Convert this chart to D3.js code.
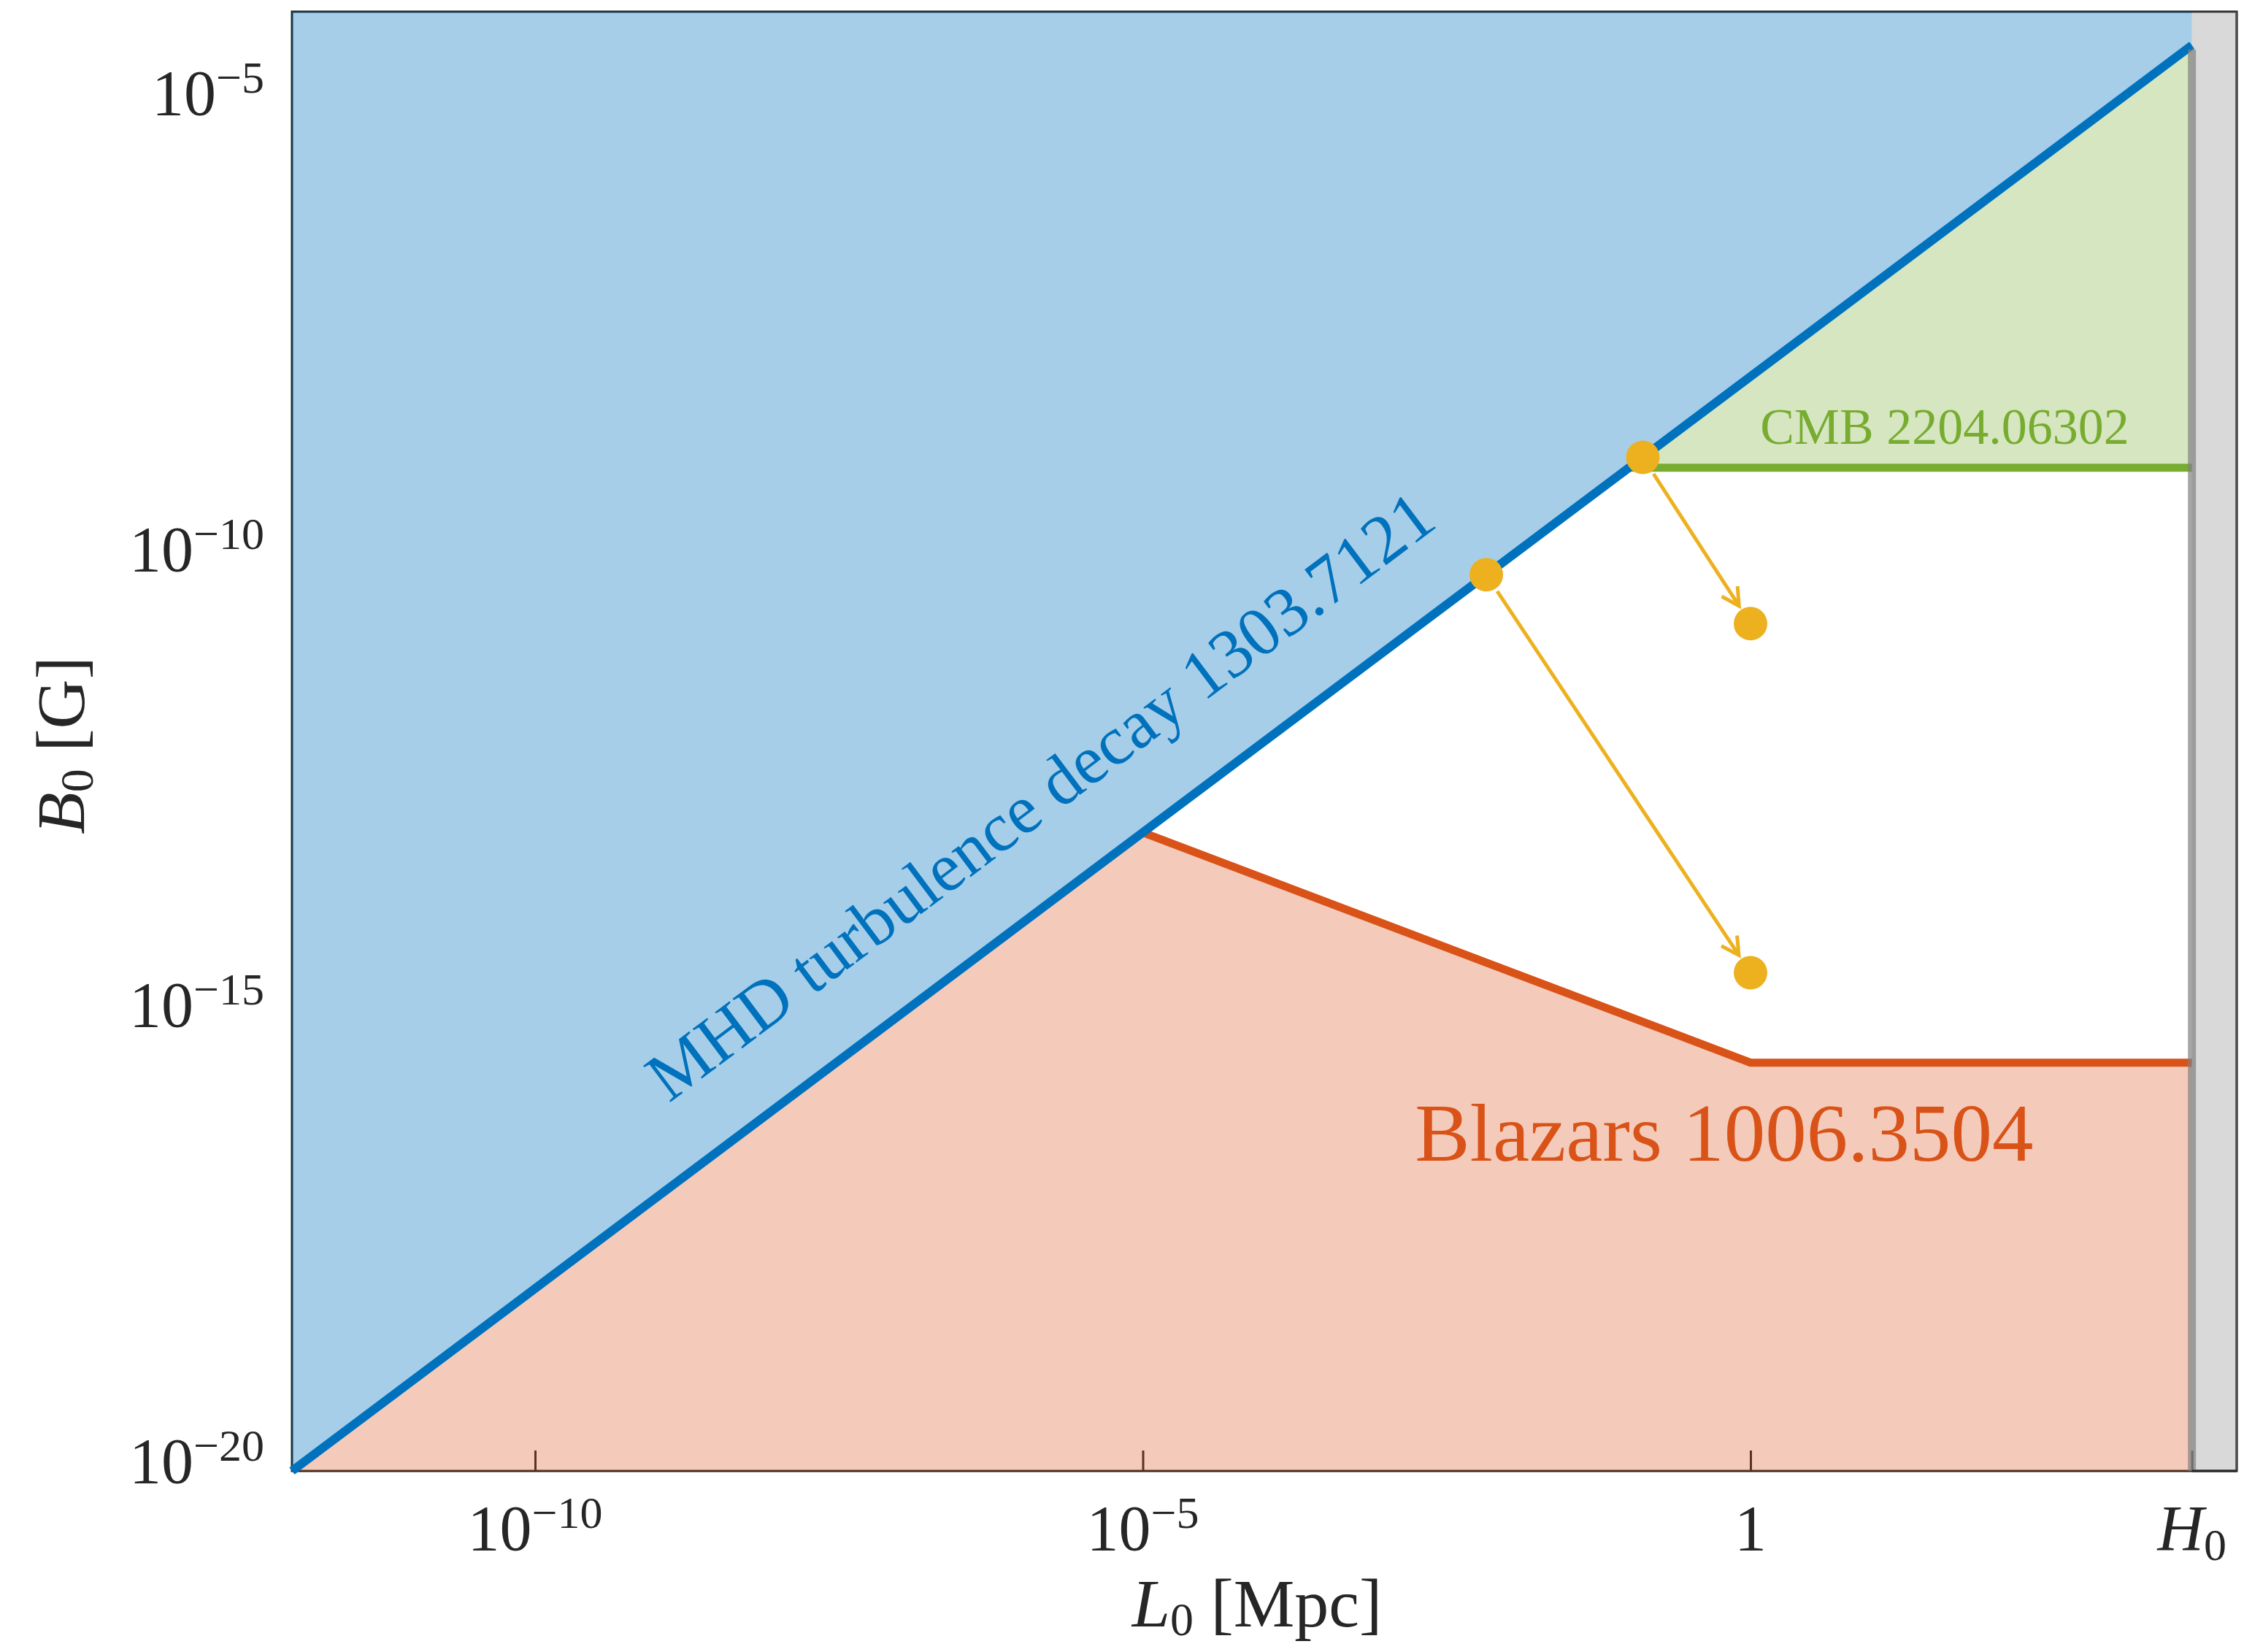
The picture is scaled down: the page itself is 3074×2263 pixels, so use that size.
<!DOCTYPE html>
<html>
<head>
<meta charset="utf-8">
<script src="https://cdn.jsdelivr.net/npm/d3@7"></script>
<style>
  body { margin: 0; background: #fff; }
  svg { display: block; }
  text { font-family: "Liberation Serif", "DejaVu Serif", serif; }
</style>
</head>
<body>
<div id="chart"></div>
<script>
// axis limits (L0 in Mpc, B0 in G)
var xLim = [1e-12, 1e4];
var yLim = [1e-20, 1e-4];
var H0 = 4283; // Hubble length, Mpc

var xTicks = [1e-10, 1e-5, 1, H0];
var xTickMain = ["10", "10", "1", "H"];
var xTickSup = ["−10", "−5", "", "0"];
var yTicks = [1e-20, 1e-15, 1e-10, 1e-5];
var yTickSup = ["−20", "−15", "−10", "−5"];

// MHD turbulence decay
var mhdL = [1e-12, H0];
var mhdB = [1e-20, 4.28e-5];
// blazar lower bound
var blazarL = [1e-5, 1, H0];
var blazarB = [1e-13, 3e-16, 3e-16];
// CMB upper bound
var cmbL = [0.1, H0];
var cmbB = [1e-9, 1e-9];
// evolution arrows (start on MHD line -> end)
var startL = [0.13, 6.7e-3];
var startB = [1.3e-9, 6.7e-11];
var endL = [1, 1];
var endB = [1.95e-11, 2.9e-15];

var blue = "#0072BD", orange = "#D95319", green = "#77AC30", yellow = "#EDB120";

var W = 3074, H = 2263;
var margin = { top: 16, right: 10, bottom: 248, left: 400 };

var svg = d3.select("#chart").append("svg")
    .attr("width", W).attr("height", H);

var x = d3.scaleLog().domain(xLim).range([margin.left, W - margin.right]);
var y = d3.scaleLog().domain(yLim).range([H - margin.bottom, margin.top]);

var zip = (a, b) => a.map((v, i) => [v, b[i]]);
var line = d3.line().x(d => x(d[0])).y(d => y(d[1]));

// frame and ticks under the translucent fills
svg.append("rect")
    .attr("x", x(xLim[0])).attr("y", y(yLim[1]))
    .attr("width", x(xLim[1]) - x(xLim[0]))
    .attr("height", y(yLim[0]) - y(yLim[1]))
    .attr("fill", "none").attr("stroke", "#262626").attr("stroke-width", 3);

var xAxis = svg.append("g")
    .attr("transform", "translate(0," + y(yLim[0]) + ")")
    .call(d3.axisBottom(x).tickValues(xTicks).tickSizeInner(-28).tickSizeOuter(0).tickFormat(""));
xAxis.select(".domain").remove();
xAxis.selectAll("line").attr("stroke", "#262626").attr("stroke-width", 3);

// regions
var bluePoly = zip(mhdL, mhdB).concat([[H0, yLim[1]], [xLim[0], yLim[1]]]);
var pinkPoly = [[mhdL[0], mhdB[0]]].concat(zip(blazarL, blazarB), [[H0, yLim[0]]]);
var greenPoly = zip(cmbL, cmbB).concat([[mhdL[1], mhdB[1]]]);

svg.append("path").attr("d", line(bluePoly) + "Z")
    .attr("fill", blue).attr("fill-opacity", 0.35);
svg.append("path").attr("d", line(pinkPoly) + "Z")
    .attr("fill", orange).attr("fill-opacity", 0.3);
svg.append("path").attr("d", line(greenPoly) + "Z")
    .attr("fill", green).attr("fill-opacity", 0.3);

// bound lines
svg.append("path").attr("d", line(zip(cmbL, cmbB)))
    .attr("fill", "none").attr("stroke", green).attr("stroke-width", 11);
svg.append("path").attr("d", line(zip(blazarL, blazarB)))
    .attr("fill", "none").attr("stroke", orange).attr("stroke-width", 11);
svg.append("path").attr("d", line(zip(mhdL, mhdB)))
    .attr("fill", "none").attr("stroke", blue).attr("stroke-width", 12);

// beyond the Hubble scale
svg.append("rect")
    .attr("x", x(H0)).attr("y", y(yLim[1]))
    .attr("width", x(xLim[1]) - x(H0))
    .attr("height", y(yLim[0]) - y(yLim[1]))
    .attr("fill", "#808080").attr("fill-opacity", 0.3);
svg.append("line")
    .attr("x1", x(H0)).attr("x2", x(H0))
    .attr("y1", y(yLim[0])).attr("y2", y(mhdB[1]) + 6)
    .attr("stroke", "#808080").attr("stroke-opacity", 0.7).attr("stroke-width", 11);
svg.append("line")
    .attr("x1", x(xLim[1])).attr("x2", x(xLim[1]))
    .attr("y1", y(yLim[0])).attr("y2", y(yLim[1]))
    .attr("stroke", "#4d4d4d").attr("stroke-width", 3);
svg.append("line")
    .attr("x1", x(H0)).attr("x2", x(xLim[1]))
    .attr("y1", y(yLim[0])).attr("y2", y(yLim[0]))
    .attr("stroke", "#262626").attr("stroke-width", 3);

// arrows
var arrows = svg.append("g").attr("stroke", yellow).attr("stroke-width", 5).attr("fill", "none");
startL.forEach(function (l, i) {
  var x0 = x(l), y0 = y(startB[i]), x1 = x(endL[i]), y1 = y(endB[i]);
  var dx = x1 - x0, dy = y1 - y0, len = Math.hypot(dx, dy);
  var ux = dx / len, uy = dy / len;
  var sx = x0 + ux * 27, sy = y0 + uy * 27;
  var tx = x1 - ux * 29, ty = y1 - uy * 29;
  arrows.append("line").attr("x1", sx).attr("y1", sy).attr("x2", tx).attr("y2", ty);
  var back = Math.atan2(-uy, -ux), a = 28.5 * Math.PI / 180, h = 27;
  arrows.append("path").attr("d",
      "M" + (tx + h * Math.cos(back + a)) + "," + (ty + h * Math.sin(back + a)) +
      "L" + tx + "," + ty +
      "L" + (tx + h * Math.cos(back - a)) + "," + (ty + h * Math.sin(back - a)));
});

// dots
svg.append("g").selectAll("circle")
    .data(zip(startL, startB).concat(zip(endL, endB)))
    .enter().append("circle")
    .attr("cx", d => x(d[0])).attr("cy", d => y(d[1]))
    .attr("r", 23).attr("fill", yellow);

// annotations
var ang = Math.atan2(y(mhdB[1]) - y(mhdB[0]), x(mhdL[1]) - x(mhdL[0])) * 180 / Math.PI;
svg.append("text")
    .attr("transform", "translate(" + x(1.86e-6) + "," + y(1.58e-13) + ") rotate(" + ang + ")")
    .attr("text-anchor", "middle").attr("font-size", 95).attr("fill", blue)
    .text("MHD turbulence decay 1303.7121");
svg.append("text")
    .attr("x", x(1.73e-3)).attr("y", y(2.5e-17))
    .attr("font-size", 113).attr("fill", orange)
    .text("Blazars 1006.3504");
svg.append("text")
    .attr("x", x(1.2)).attr("y", y(1.82e-9))
    .attr("font-size", 70).attr("fill", green)
    .text("CMB 2204.06302");

// tick labels
xTicks.forEach(function (t, i) {
  var tx = svg.append("text")
      .attr("x", x(t)).attr("y", y(yLim[0]) + 108)
      .attr("text-anchor", "middle").attr("fill", "#262626");
  var isH = xTickMain[i] === "H";
  tx.append("tspan").attr("font-size", 88)
      .attr("font-style", isH ? "italic" : null).text(xTickMain[i]);
  if (xTickSup[i]) {
    tx.append("tspan").attr("font-size", 62)
        .attr("dy", isH ? 14 : -30).text(xTickSup[i]);
  }
});
yTicks.forEach(function (t, i) {
  var ty = svg.append("text")
      .attr("x", x(xLim[0]) - 38).attr("y", y(t) + 16)
      .attr("text-anchor", "end").attr("fill", "#262626");
  ty.append("tspan").attr("font-size", 88).text("10");
  ty.append("tspan").attr("font-size", 62).attr("dy", -30).text(yTickSup[i]);
});

// axis titles
var xl = svg.append("text")
    .attr("x", 1722).attr("y", 2228)
    .attr("text-anchor", "middle").attr("fill", "#262626").attr("font-size", 94);
xl.append("tspan").attr("font-style", "italic").text("L");
xl.append("tspan").attr("font-size", 64).attr("dy", 12).text("0");
xl.append("tspan").attr("dy", -12).text(" [Mpc]");

var yl = svg.append("text")
    .attr("transform", "translate(115,1021) rotate(-90)")
    .attr("text-anchor", "middle").attr("fill", "#262626").attr("font-size", 94);
yl.append("tspan").attr("font-style", "italic").text("B");
yl.append("tspan").attr("font-size", 64).attr("dy", 12).text("0");
yl.append("tspan").attr("dy", -12).text(" [G]");
</script>
</body>
</html>
